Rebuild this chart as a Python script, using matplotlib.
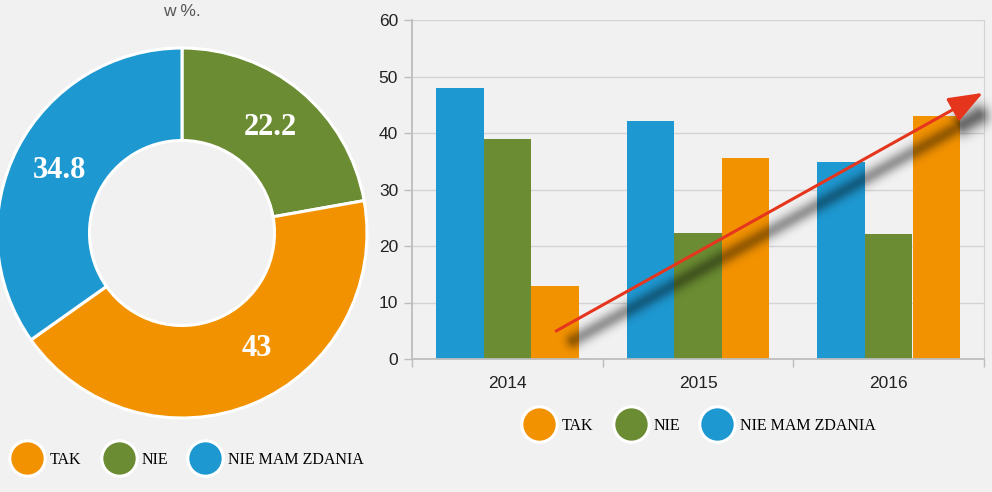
import numpy as np
import matplotlib
matplotlib.use("Agg")
import matplotlib.pyplot as plt
from matplotlib.lines import Line2D

# =========================
# Data
# =========================
years = ["2014", "2015", "2016"]
series_names = ["TAK", "NIE", "NIE MAM ZDANIA"]
tak = [13.0, 35.6, 43.0]
nie = [39.0, 22.3, 22.2]
nie_mam_zdania = [48.0, 42.1, 34.8]

pie_values = [22.2, 43.0, 34.8]          # 2016: NIE, TAK, NIE MAM ZDANIA (clockwise from top)
pie_labels = ["22.2", "43", "34.8"]
pie_title = "w %."

# =========================
# Styles
# =========================
c_tak = "#f39200"
c_nie = "#6b8c32"
c_nmz = "#1e98d1"
bg = "#f1f1f1"
grid_c = "#d3d3d3"
axis_c = "#bdbdbd"

fig = plt.figure(figsize=(9.92, 4.92), dpi=100, facecolor=bg)

# -------------------------
# Donut (left)
# -------------------------
W, H = 992.0, 492.0
cx, cy, r = 182.0, 233.0, 185.0
ax_pie = fig.add_axes([(cx - r) / W, (H - cy - r) / H, 2 * r / W, 2 * r / H])
ax_pie.set_facecolor("none")
wedges, _ = ax_pie.pie(pie_values, colors=[c_nie, c_tak, c_nmz], startangle=90,
                       counterclock=False, radius=1.0,
                       wedgeprops=dict(width=0.5, edgecolor="white", linewidth=2.2))
ax_pie.set_xlim(-1.0, 1.0)
ax_pie.set_ylim(-1.0, 1.0)
ax_pie.set_aspect("equal")
ax_pie.axis("off")

label_angles = [50, -57, 153]
for lab, ang in zip(pie_labels, label_angles):
    a = np.deg2rad(ang)
    ax_pie.text(0.745 * np.cos(a), 0.745 * np.sin(a), lab, ha="center", va="center",
                color="white", fontsize=22, fontweight="bold", family="Liberation Serif")

fig.text(cx / W, (H - 12) / H, pie_title, ha="center", va="center", fontsize=12.5,
         color="#555555", family="Liberation Sans")

# -------------------------
# Bars (right)
# -------------------------
x0, x1, y0, y1 = 412.0, 984.0, 20.0, 359.0
ax = fig.add_axes([x0 / W, (H - y1) / H, (x1 - x0) / W, (y1 - y0) / H])
ax.set_facecolor("none")

x = np.arange(len(years))
bw = 0.25
ax.bar(x - bw, nie_mam_zdania, bw, color=c_nmz, zorder=2)
ax.bar(x, nie, bw, color=c_nie, zorder=2)
ax.bar(x + bw, tak, bw, color=c_tak, zorder=2)

# soft drop shadow of the trend arrow (blurred, pixel space)
gw, gh = int(W - x0), int(y1 - y0)
gx, gy = np.meshgrid(np.arange(gw) + x0, np.arange(gh) + y0)

def seg_dist(px, py, ax_, ay_, bx_, by_):
    dx, dy = bx_ - ax_, by_ - ay_
    t = np.clip(((px - ax_) * dx + (py - ay_) * dy) / (dx * dx + dy * dy), 0, 1)
    return np.hypot(px - (ax_ + t * dx), py - (ay_ + t * dy))

d_line = seg_dist(gx, gy, 573, 340, 966, 122)
d_head = seg_dist(gx, gy, 962, 124, 978, 115)
shade = np.maximum(0.38 * np.exp(-d_line ** 2 / (2 * 5.5 ** 2)),
                   0.55 * np.exp(-d_head ** 2 / (2 * 7.5 ** 2)))
rgba = np.zeros((gh, gw, 4))
rgba[..., 3] = shade
ax.imshow(rgba, extent=[0, gw / (x1 - x0), 0, 1], origin="upper", transform=ax.transAxes,
          aspect="auto", interpolation="bilinear", zorder=3, clip_on=False)

ax.set_xlim(-0.5, 2.5)
ax.set_ylim(0, 60)
ax.set_yticks(np.arange(0, 61, 10))
ax.set_xticks(x)
ax.set_xticklabels(years)
ax.set_xticks(np.arange(-0.5, 2.6, 1.0), minor=True)
ax.grid(axis="y", color=grid_c, linewidth=1.0, zorder=0)
ax.set_axisbelow(True)

for s in ["left", "bottom"]:
    ax.spines[s].set_color(axis_c)
    ax.spines[s].set_linewidth(1.3)
ax.spines["right"].set_color(grid_c)
ax.spines["top"].set_visible(False)

ax.tick_params(axis="y", length=6, width=1, color=axis_c, pad=4,
               labelsize=12.5, labelcolor="#222222")
ax.tick_params(axis="x", which="major", length=0, pad=12,
               labelsize=12.5, labelcolor="#222222")
ax.tick_params(axis="x", which="minor", length=6, width=1, color=axis_c)
for t in ax.get_xticklabels() + ax.get_yticklabels():
    t.set_family("Liberation Sans")

ax.annotate("", xy=(0.998, 0.785), xytext=(0.252, 0.0826),
            xycoords="axes fraction", textcoords="axes fraction",
            arrowprops=dict(arrowstyle="-|>,head_length=1.0,head_width=0.38",
                            color="#e5361d", lw=2.2, mutation_scale=21,
                            shrinkA=0, shrinkB=0),
            zorder=4, annotation_clip=False)

# -------------------------
# Legends
# -------------------------
def legend_handles():
    return [Line2D([], [], linestyle="none", marker="o", markersize=25.5,
                   markerfacecolor=c, markeredgecolor="white", markeredgewidth=2.2)
            for c in (c_tak, c_nie, c_nmz)]

for lx, ly in [(9, 460), (521, 426)]:
    leg = fig.legend(legend_handles(), series_names, loc="center left",
                     bbox_to_anchor=(lx / W, (H - ly) / H), bbox_transform=fig.transFigure,
                     ncol=3, frameon=False, handlelength=2.3, handletextpad=0.25,
                     columnspacing=1.2, borderpad=0, borderaxespad=0,
                     prop=dict(family="Liberation Serif", size=11.5))
    for t in leg.get_texts():
        t.set_color("black")

fig.savefig("out.png", dpi=100, facecolor=bg)
